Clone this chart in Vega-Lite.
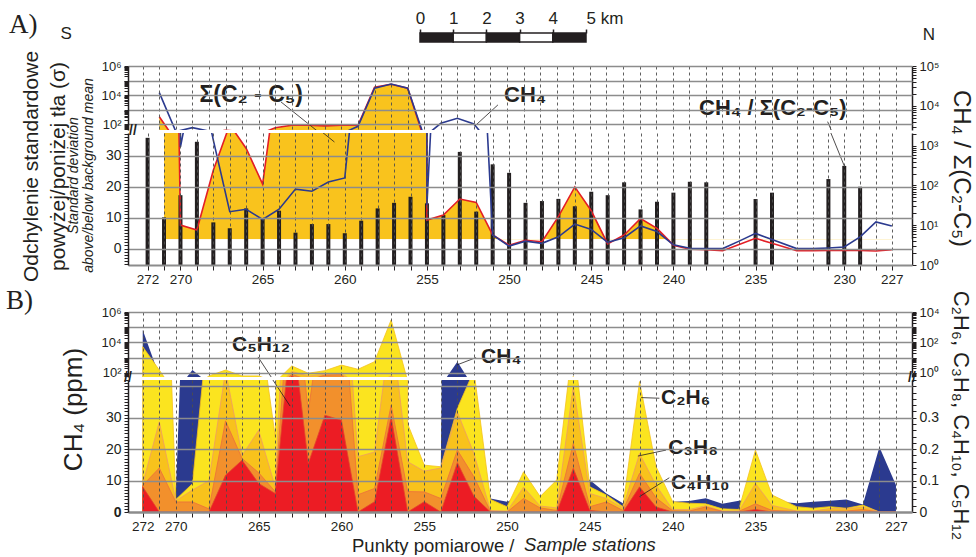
{
  "$schema": "https://vega.github.io/schema/vega-lite/v6.json",
  "padding": {"left": 6, "top": 9, "right": 12, "bottom": 0},
  "background": "white",
  "config": {
    "font": "Liberation Sans",
    "view": {"stroke": null},
    "axis": {"labelFont": "Liberation Sans", "titleFont": "Liberation Sans", "labelColor": "#231f20", "titleColor": "#231f20", "titleFontWeight": "normal", "labelFontSize": 13, "tickColor": "#231f20", "domainColor": "#231f20", "tickCount": 500}
  },
  "datasets": {
    "a": [
      {"station":272,"sum":null,"ch4":null,"ratio":1580},
      {"station":271,"sum":340,"ch4":15000,"ratio":15.8},
      {"station":270,"sum":7.6,"ch4":32.8,"ratio":57},
      {"station":269,"sum":6.0,"ch4":60,"ratio":1256},
      {"station":268,"sum":25.3,"ch4":35,"ratio":11.8},
      {"station":267,"sum":40,"ch4":11.9,"ratio":8.4},
      {"station":266,"sum":32.3,"ch4":12.7,"ratio":26.5},
      {"station":265,"sum":20.8,"ch4":9.4,"ratio":14.9},
      {"station":264,"sum":60,"ch4":12.7,"ratio":23.2},
      {"station":263,"sum":88,"ch4":19.2,"ratio":6.5},
      {"station":262,"sum":88,"ch4":18.5,"ratio":10.7},
      {"station":261,"sum":80,"ch4":21.5,"ratio":10.7},
      {"station":260,"sum":88,"ch4":22.8,"ratio":6.3},
      {"station":259,"sum":88,"ch4":75,"ratio":13},
      {"station":258,"sum":35000,"ch4":30000,"ratio":26.5},
      {"station":257,"sum":56000,"ch4":58000,"ratio":36.6},
      {"station":256,"sum":30000,"ch4":30000,"ratio":52},
      {"station":255,"sum":9.2,"ch4":14,"ratio":35.6},
      {"station":254,"sum":10.8,"ch4":120,"ratio":18},
      {"station":253,"sum":16,"ch4":265,"ratio":700},
      {"station":252,"sum":14.9,"ch4":108,"ratio":22},
      {"station":251,"sum":4.4,"ch4":4.4,"ratio":340},
      {"station":250,"sum":1.1,"ch4":0.8,"ratio":208},
      {"station":249,"sum":2.7,"ch4":2.4,"ratio":36.6},
      {"station":248,"sum":2.2,"ch4":1.7,"ratio":40.6},
      {"station":247,"sum":10.3,"ch4":3.8,"ratio":46},
      {"station":246,"sum":19.9,"ch4":7.9,"ratio":30},
      {"station":245,"sum":12.2,"ch4":6.2,"ratio":69.6},
      {"station":244,"sum":1.5,"ch4":2.0,"ratio":57},
      {"station":243,"sum":4.4,"ch4":3.5,"ratio":120},
      {"station":242,"sum":9.7,"ch4":7.3,"ratio":25},
      {"station":241,"sum":6.5,"ch4":5.5,"ratio":39},
      {"station":240,"sum":1.1,"ch4":1.2,"ratio":66},
      {"station":239,"sum":-0.2,"ch4":0.1,"ratio":124},
      {"station":238,"sum":-0.4,"ch4":0,"ratio":120},
      {"station":237,"sum":-0.7,"ch4":0,"ratio":null},
      {"station":236,"sum":1.3,"ch4":2.4,"ratio":null},
      {"station":235,"sum":3.3,"ch4":4.9,"ratio":45.6},
      {"station":234,"sum":1.7,"ch4":2.9,"ratio":66},
      {"station":233,"sum":-0.7,"ch4":0,"ratio":null},
      {"station":232,"sum":-0.7,"ch4":0,"ratio":null},
      {"station":231,"sum":-0.6,"ch4":0.2,"ratio":145},
      {"station":230,"sum":-0.6,"ch4":0.5,"ratio":311},
      {"station":229,"sum":-0.6,"ch4":3.8,"ratio":93},
      {"station":228,"sum":-0.8,"ch4":8.6,"ratio":null},
      {"station":227,"sum":-0.4,"ch4":7.3,"ratio":null}
    ],
    "b": [
      {"station":272,"ch4":66000,"c2h6":52,"c3h8":0.09,"c4h10":0.085,"c5h12":0.08},
      {"station":271,"ch4":60,"c2h6":1.5,"c3h8":0.287,"c4h10":0.14,"c5h12":0},
      {"station":270,"ch4":6,"c2h6":0.04,"c3h8":0.036,"c4h10":0.032,"c5h12":0},
      {"station":269,"ch4":150,"c2h6":0.09,"c3h8":0.07,"c4h10":0.032,"c5h12":0},
      {"station":268,"ch4":20,"c2h6":0.62,"c3h8":0.10,"c4h10":0.01,"c5h12":0},
      {"station":267,"ch4":20,"c2h6":1.5,"c3h8":0.45,"c4h10":0.29,"c5h12":0.117},
      {"station":266,"ch4":20,"c2h6":0.62,"c3h8":0.18,"c4h10":0.17,"c5h12":0.165},
      {"station":265,"ch4":20,"c2h6":0.62,"c3h8":0.26,"c4h10":0.125,"c5h12":0.091},
      {"station":264,"ch4":10,"c2h6":0.24,"c3h8":0.08,"c4h10":0.065,"c5h12":0.059},
      {"station":263,"ch4":20,"c2h6":2.8,"c3h8":1.2,"c4h10":0.8,"c5h12":0.6},
      {"station":262,"ch4":20,"c2h6":0.93,"c3h8":0.6,"c4h10":0.32,"c5h12":0.155},
      {"station":261,"ch4":20,"c2h6":1.38,"c3h8":0.8,"c4h10":0.7,"c5h12":0.308},
      {"station":260,"ch4":20,"c2h6":3.2,"c3h8":0.9,"c4h10":0.75,"c5h12":0.292},
      {"station":259,"ch4":15,"c2h6":1.7,"c3h8":0.176,"c4h10":0.055,"c5h12":0},
      {"station":258,"ch4":15,"c2h6":5.4,"c3h8":0.191,"c4h10":0.075,"c5h12":0.033},
      {"station":257,"ch4":20,"c2h6":3000,"c3h8":0.6,"c4h10":0.34,"c5h12":0.303},
      {"station":256,"ch4":14,"c2h6":0.28,"c3h8":0.16,"c4h10":0.065,"c5h12":0},
      {"station":255,"ch4":12,"c2h6":0.149,"c3h8":0.13,"c4h10":0.064,"c5h12":0.033},
      {"station":254,"ch4":14,"c2h6":0.144,"c3h8":0.14,"c4h10":0.043,"c5h12":0},
      {"station":253,"ch4":540,"c2h6":0.33,"c3h8":0.318,"c4h10":0.197,"c5h12":0.157},
      {"station":252,"ch4":10,"c2h6":0.45,"c3h8":0.186,"c4h10":0.112,"c5h12":0.05},
      {"station":251,"ch4":4.3,"c2h6":0.04,"c3h8":0.005,"c4h10":0.002,"c5h12":0},
      {"station":250,"ch4":3.3,"c2h6":0.017,"c3h8":0.003,"c4h10":0,"c5h12":0},
      {"station":249,"ch4":5,"c2h6":0.128,"c3h8":0.079,"c4h10":0.043,"c5h12":0},
      {"station":248,"ch4":3,"c2h6":0.049,"c3h8":0.019,"c4h10":0.013,"c5h12":0},
      {"station":247,"ch4":5,"c2h6":0.102,"c3h8":0.013,"c4h10":0.005,"c5h12":0},
      {"station":246,"ch4":15,"c2h6":0.55,"c3h8":0.40,"c4h10":0.218,"c5h12":0.139},
      {"station":245,"ch4":10.2,"c2h6":0.08,"c3h8":0.059,"c4h10":0.017,"c5h12":0.005},
      {"station":244,"ch4":5.9,"c2h6":0.054,"c3h8":0.043,"c4h10":0.032,"c5h12":0},
      {"station":243,"ch4":2.8,"c2h6":0.017,"c3h8":0.013,"c4h10":0.005,"c5h12":0},
      {"station":242,"ch4":5,"c2h6":0.415,"c3h8":0.186,"c4h10":0.123,"c5h12":0.08},
      {"station":241,"ch4":5,"c2h6":0.144,"c3h8":0.085,"c4h10":0.045,"c5h12":0.016},
      {"station":240,"ch4":3.3,"c2h6":0.033,"c3h8":0.008,"c4h10":0.004,"c5h12":0},
      {"station":239,"ch4":3.5,"c2h6":0.028,"c3h8":0.008,"c4h10":0.003,"c5h12":0},
      {"station":238,"ch4":4.4,"c2h6":0.026,"c3h8":0.02,"c4h10":0.016,"c5h12":0},
      {"station":237,"ch4":2.6,"c2h6":0.01,"c3h8":0.003,"c4h10":0.002,"c5h12":0},
      {"station":236,"ch4":3.6,"c2h6":0.008,"c3h8":0.003,"c4h10":0.002,"c5h12":0},
      {"station":235,"ch4":4,"c2h6":0.197,"c3h8":0.091,"c4h10":0.026,"c5h12":0.008},
      {"station":234,"ch4":3.5,"c2h6":0.054,"c3h8":0.021,"c4h10":0.005,"c5h12":0},
      {"station":233,"ch4":2.8,"c2h6":0.017,"c3h8":0.003,"c4h10":0.002,"c5h12":0},
      {"station":232,"ch4":3.3,"c2h6":0.012,"c3h8":0.003,"c4h10":0.002,"c5h12":0},
      {"station":231,"ch4":3.6,"c2h6":0.017,"c3h8":0.011,"c4h10":0.003,"c5h12":0},
      {"station":230,"ch4":4,"c2h6":0.012,"c3h8":0.01,"c4h10":0.003,"c5h12":0},
      {"station":229,"ch4":2.4,"c2h6":0.022,"c3h8":0.016,"c4h10":0.008,"c5h12":0},
      {"station":228,"ch4":20.7,"c2h6":0,"c3h8":0,"c4h10":0,"c5h12":0},
      {"station":227,"ch4":8.6,"c2h6":0,"c3h8":0,"c4h10":0,"c5h12":0}
    ]
  },
  "bounds": "flush",
  "spacing": 3,
  "resolve": {"scale": {"x": "independent", "y": "independent"}, "axis": {"x": "independent", "y": "independent"}},
  "vconcat": [
    {
      "width": 784, "height": 9,
      "layer": [
        {
          "data": {"values": [{"from":0,"to":1,"part":"d"},{"from":1,"to":2,"part":"l"},{"from":2,"to":3,"part":"d"},{"from":3,"to":4,"part":"l"},{"from":4,"to":5,"part":"d"}]},
          "mark": {"type": "rect", "stroke": "#231f20", "strokeWidth": 1.5},
          "encoding": {
            "x": {"field": "from", "type": "quantitative", "scale": {"domain": [-8.795, 14.819], "nice": false, "zero": false},
                  "axis": {"orient": "top", "values": [0,1,2,3,4,5], "format": "d", "labelExpr": "datum.value == 5 ? '5 km' : datum.label", "labelAlign": {"condition": {"test": "datum.value == 5", "value": "left"}, "value": "center"}, "domain": false, "tickSize": 4, "tickWidth": 1.5, "labelFontSize": 17, "labelPadding": 2, "grid": false, "title": null}},
            "x2": {"field": "to"},
            "fill": {"field": "part", "type": "nominal", "scale": {"domain": ["d","l"], "range": ["#231f20","#ffffff"]}, "legend": null}
          }
        },
        {
          "data": {"values": [{}]},
          "mark": {"type": "text", "fontSize": 17, "color": "#231f20", "dy": -4},
          "encoding": {"x": {"datum": -10.66, "type": "quantitative"}, "text": {"value": "S"}}
        },
        {
          "data": {"values": [{}]},
          "mark": {"type": "text", "fontSize": 17, "color": "#231f20", "dy": -3},
          "encoding": {"x": {"datum": 15.33, "type": "quantitative"}, "text": {"value": "N"}}
        }
      ]
    },
    {"width": 784, "height": 18, "data": {"values": []}, "mark": "point"},
    {
      "width": 784, "height": 64,
      "title": {"text": "A)", "anchor": "start", "frame": "group", "dx": -119, "dy": -21, "offset": 0, "font": "Liberation Serif", "fontSize": 27, "fontWeight": "normal", "color": "#231f20"},
      "layer": [
        {
          "data": {"name": "a"},
          "layer": [
            {
              "transform": [{"filter": "datum.sum > 0"}],
              "mark": {"type": "area", "color": "#f9c31d", "clip": true},
              "encoding": {
                "x": {"field": "station", "type": "quantitative", "scale": {"domain": [272.89, 234, 233, 226.03], "range": [0, 644, 668.7, 784], "nice": false, "zero": false},
                      "axis": {"orient": "bottom", "values": [272,271,270,269,268,267,266,265,264,263,262,261,260,259,258,257,256,255,254,253,252,251,250,249,248,247,246,245,244,243,242,241,240,239,238,237,236,235,234,233,232,231,230,229,228,227], "tickCount": 500, "labels": false, "ticks": false, "domain": false, "grid": true, "gridDash": [3,3], "gridColor": "#4d4d4d", "gridWidth": 0.9, "title": null, "zindex": 1}},
                "y": {"field": "sum", "type": "quantitative", "stack": null, "scale": {"type": "log", "domain": [41.7, 1000000], "nice": false},
                      "axis": {"orient": "left", "values": [50,60,70,80,90,100,200,300,400,500,600,700,800,900,1000,2000,3000,4000,5000,6000,7000,8000,9000,10000,20000,30000,40000,50000,60000,70000,80000,90000,100000,200000,300000,400000,500000,600000,700000,800000,900000,1000000],
                               "tickCount": 500,
                               "labelExpr": "datum.value == 100 ? '10²' : datum.value == 10000 ? '10⁴' : datum.value == 1000000 ? '10⁶' : ''",
                               "labelOverlap": false, "labelPadding": 3, "tickSize": 4, "domainWidth": 1.5,
                               "grid": true, "gridColor": "#8c8c8c", "gridWidth": 1.3,
                               "gridOpacity": {"condition": {"test": "indexof([100,1000,10000,100000,1000000], datum.value) >= 0", "value": 1}, "value": 0},
                               "zindex": 1,
                               "title": ["Standard deviation", "above/below background mean"], "titleFontStyle": "italic", "titleFontSize": 14, "titleLineHeight": 15, "titleAngle": -90, "titleX": -55, "titleY": 109, "titleBaseline": "middle", "titleAlign": "center"}},
                "y2": {"datum": 1}
              }
            },
            {
              "transform": [{"filter": "datum.sum > 0"}],
              "mark": {"type": "line", "color": "#e31e26", "strokeWidth": 1.6, "clip": true},
              "encoding": {"x": {"field": "station", "type": "quantitative"}, "y": {"field": "sum", "type": "quantitative"}}
            },
            {
              "transform": [{"filter": "datum.ch4 > 0"}],
              "mark": {"type": "line", "color": "#2b3a8f", "strokeWidth": 1.6, "clip": true},
              "encoding": {"x": {"field": "station", "type": "quantitative"}, "y": {"field": "ch4", "type": "quantitative"}}
            },
            {
              "data": {"values": [{}]},
              "mark": {"type": "text", "fontSize": 23, "fontWeight": "bold", "color": "#231f20", "align": "center", "baseline": "middle"},
              "encoding": {"x": {"datum": 265.45, "type": "quantitative"}, "y": {"datum": 10500, "type": "quantitative"}, "text": {"value": "Σ(C₂ - C₅)"}}
            },
            {
              "data": {"values": [{}]},
              "mark": {"type": "rule", "color": "#231f20", "strokeWidth": 0.8, "clip": true},
              "encoding": {"x": {"datum": 263.65, "type": "quantitative"}, "x2": {"datum": 260.63}, "y": {"datum": 3470, "type": "quantitative"}, "y2": {"datum": 6.3}}
            },
            {
              "data": {"values": [{}]},
              "mark": {"type": "text", "fontSize": 22, "fontWeight": "bold", "color": "#231f20", "align": "left", "baseline": "middle"},
              "encoding": {"x": {"datum": 250.18, "type": "quantitative"}, "y": {"datum": 10500, "type": "quantitative"}, "text": {"value": "CH₄"}}
            },
            {
              "data": {"values": [{}]},
              "mark": {"type": "rule", "color": "#231f20", "strokeWidth": 0.8, "clip": true},
              "encoding": {"x": {"datum": 250.55, "type": "quantitative"}, "x2": {"datum": 251.94}, "y": {"datum": 2190, "type": "quantitative"}, "y2": {"datum": 79}}
            },
            {
              "data": {"values": [{}]},
              "mark": {"type": "text", "fontSize": 22, "fontWeight": "bold", "color": "#231f20", "align": "center", "baseline": "middle"},
              "encoding": {"x": {"datum": 233.97, "type": "quantitative"}, "y": {"datum": 1350, "type": "quantitative"}, "text": {"value": "CH₄ / Σ(C₂-C₅)"}}
            },
            {
              "data": {"values": [{}]},
              "mark": {"type": "rule", "color": "#231f20", "strokeWidth": 0.8, "clip": true},
              "encoding": {"x": {"datum": 231.13, "type": "quantitative"}, "x2": {"datum": 230.0}, "y": {"datum": 155, "type": "quantitative"}, "y2": {"datum": 0.15}}
            }
          ]
        },
        {
          "data": {"name": "a"},
          "transform": [{"filter": "datum.ratio > 0"}],
          "mark": {"type": "point", "opacity": 0},
          "encoding": {
            "x": {"field": "station", "type": "quantitative"},
            "y": {"field": "ratio", "type": "quantitative", "scale": {"type": "log", "domain": [2455, 100000], "nice": false},
                  "axis": {"orient": "right", "values": [3000,4000,5000,6000,7000,8000,9000,10000,20000,30000,40000,50000,60000,70000,80000,90000,100000], "tickCount": 500,
                           "labelExpr": "datum.value == 10000 ? '10⁴' : datum.value == 100000 ? '10⁵' : ''", "labelOverlap": false, "labelPadding": 3, "tickSize": 4, "domainWidth": 1.5, "grid": false, "title": null}}
          }
        }
      ],
      "resolve": {"scale": {"y": "independent"}}
    },
    {
      "width": 784, "height": 132,
      "layer": [
        {
          "data": {"name": "a"},
          "layer": [
            {
              "mark": {"type": "area", "color": "#f9c31d", "clip": true},
              "encoding": {
                "x": {"field": "station", "type": "quantitative", "scale": {"domain": [272.89, 234, 233, 226.03], "range": [0, 644, 668.7, 784], "nice": false, "zero": false},
                      "axis": {"orient": "bottom", "values": [272,271,270,269,268,267,266,265,264,263,262,261,260,259,258,257,256,255,254,253,252,251,250,249,248,247,246,245,244,243,242,241,240,239,238,237,236,235,234,233,232,231,230,229,228,227], "tickCount": 500, "format": "d",
                               "labelExpr": "indexof([272,270,265,260,255,250,245,240,235,230,227], datum.value) >= 0 ? datum.label : ''", "labelOverlap": false, "labelFontSize": 13.5, "labelPadding": 2,
                               "tickSize": 5, "domainColor": "#8c8c8c", "domainWidth": 2, "grid": true, "gridDash": [3,3], "gridColor": "#4d4d4d", "gridWidth": 0.9, "title": null, "zindex": 1}},
                "y": {"field": "sum", "type": "quantitative", "stack": null, "scale": {"domain": [-5.3, 37.3], "nice": false, "zero": false},
                      "axis": {"orient": "left", "values": [-5,-4,-3,-2,-1,0,1,2,3,4,5,6,7,8,9,10,11,12,13,14,15,16,17,18,19,20,21,22,23,24,25,26,27,28,29,30,31,32,33,34,35,36,37], "tickCount": 500, "format": "d",
                               "labelExpr": "indexof([0,10,20,30], datum.value) >= 0 ? datum.label : ''", "labelOverlap": false, "labelFontSize": 14, "labelPadding": 3, "tickSize": 4, "domainWidth": 1.5,
                               "grid": true, "gridColor": "#8c8c8c", "gridWidth": 1.3,
                               "gridOpacity": {"condition": {"test": "indexof([0,10,20,30], datum.value) >= 0", "value": 1}, "value": 0},
                               "zindex": 1,
                               "title": ["Odchylenie standardowe", "powyżej/poniżej tła (σ)"], "titleFontSize": 21, "titleLineHeight": 27, "titleAngle": -90, "titleX": -97, "titleY": 33, "titleBaseline": "middle", "titleAlign": "center"}},
                "y2": {"datum": 3}
              }
            },
            {
              "data": {"values": [{}]},
              "mark": {"type": "rect", "color": "white", "clip": true},
              "encoding": {"y": {"datum": -10, "type": "quantitative"}, "y2": {"datum": 3}}
            }
          ]
        },
        {
          "data": {"name": "a"},
          "transform": [{"filter": "datum.ratio > 0"}],
          "mark": {"type": "bar", "width": 4, "color": "#231f20", "clip": true},
          "encoding": {
            "x": {"field": "station", "type": "quantitative"},
            "y": {"field": "ratio", "type": "quantitative", "stack": null, "scale": {"type": "log", "domain": [1, 2089], "nice": false},
                  "axis": {"orient": "right", "values": [1,2,3,4,5,6,7,8,9,10,20,30,40,50,60,70,80,90,100,200,300,400,500,600,700,800,900,1000,2000], "tickCount": 500,
                           "labelExpr": "datum.value == 1 ? '10⁰' : datum.value == 10 ? '10¹' : datum.value == 100 ? '10²' : datum.value == 1000 ? '10³' : ''", "labelOverlap": false, "labelPadding": 3, "tickSize": 4, "domainWidth": 1.5, "grid": false,
                           "title": "CH₄ / Σ(C₂-C₅)", "titleFontSize": 24, "titleAngle": 90, "titleX": 48, "titleY": 35, "titleBaseline": "middle", "titleAlign": "center"}},
            "y2": {"datum": 1}
          }
        },
        {
          "data": {"name": "a"},
          "layer": [
            {
              "mark": {"type": "line", "color": "#e31e26", "strokeWidth": 1.6, "clip": true},
              "encoding": {"x": {"field": "station", "type": "quantitative"}, "y": {"field": "sum", "type": "quantitative", "scale": {"domain": [-5.3, 37.3], "nice": false, "zero": false}, "axis": null}}
            },
            {
              "mark": {"type": "line", "color": "#2b3a8f", "strokeWidth": 1.6, "clip": true},
              "encoding": {"x": {"field": "station", "type": "quantitative"}, "y": {"field": "ch4", "type": "quantitative"}}
            },
            {
              "data": {"values": [{}]},
              "mark": {"type": "rule", "color": "#231f20", "strokeWidth": 0.8, "clip": true},
              "encoding": {"x": {"datum": 263.65, "type": "quantitative"}, "x2": {"datum": 260.63}, "y": {"datum": 47.3, "type": "quantitative"}, "y2": {"datum": 34.4}}
            },
            {
              "data": {"values": [{}]},
              "mark": {"type": "rule", "color": "#231f20", "strokeWidth": 0.8, "clip": true},
              "encoding": {"x": {"datum": 231.13, "type": "quantitative"}, "x2": {"datum": 230.0}, "y": {"datum": 40.9, "type": "quantitative"}, "y2": {"datum": 26.7}}
            },
            {
              "data": {"values": [{}]},
              "mark": {"type": "text", "fontSize": 14, "fontWeight": "bold", "color": "#231f20", "align": "center", "baseline": "middle"},
              "encoding": {"x": {"datum": 272.89, "type": "quantitative"}, "y": {"datum": 37.8, "type": "quantitative"}, "text": {"value": "//"}}
            }
          ]
        }
      ],
      "resolve": {"scale": {"y": "independent"}}
    },
    {"width": 784, "height": 41, "data": {"values": []}, "mark": "point"},
    {
      "width": 784, "height": 65,
      "title": {"text": "B)", "anchor": "start", "frame": "group", "dx": -122, "dy": 9, "offset": 0, "font": "Liberation Serif", "fontSize": 27, "fontWeight": "normal", "color": "#231f20"},
      "layer": [
        {
          "data": {"name": "b"},
          "transform": [{"filter": "datum.ch4 > 0"}],
          "mark": {"type": "area", "color": "#2b3a8f", "clip": true},
          "encoding": {
            "x": {"field": "station", "type": "quantitative", "scale": {"domain": [272.89, 234, 233, 226.03], "range": [0, 644, 668.7, 784], "nice": false, "zero": false},
                  "axis": {"orient": "bottom", "values": [272,271,270,269,268,267,266,265,264,263,262,261,260,259,258,257,256,255,254,253,252,251,250,249,248,247,246,245,244,243,242,241,240,239,238,237,236,235,234,233,232,231,230,229,228,227], "tickCount": 500, "labels": false, "ticks": false, "domain": false, "grid": true, "gridDash": [3,3], "gridColor": "#4d4d4d", "gridWidth": 0.9, "title": null, "zindex": 1}},
            "y": {"field": "ch4", "type": "quantitative", "stack": null, "scale": {"type": "log", "domain": [52.5, 1000000], "nice": false},
                  "axis": {"orient": "left", "values": [60,70,80,90,100,200,300,400,500,600,700,800,900,1000,2000,3000,4000,5000,6000,7000,8000,9000,10000,20000,30000,40000,50000,60000,70000,80000,90000,100000,200000,300000,400000,500000,600000,700000,800000,900000,1000000], "tickCount": 500,
                           "labelExpr": "datum.value == 100 ? '10²' : datum.value == 10000 ? '10⁴' : datum.value == 1000000 ? '10⁶' : ''",
                           "labelOverlap": false, "labelPadding": 3, "tickSize": 4, "domainWidth": 1.5,
                           "grid": true, "gridColor": "#8c8c8c", "gridWidth": 1.3,
                           "gridOpacity": {"condition": {"test": "indexof([100,1000,10000,100000,1000000], datum.value) >= 0", "value": 1}, "value": 0},
                           "zindex": 1, "title": null}},
            "y2": {"datum": 1}
          }
        },
        {
          "data": {"name": "b"},
          "layer": [
            {
              "transform": [{"filter": "datum.c2h6 > 0"}],
              "mark": {"type": "area", "color": "#fbe41f", "stroke": "#f5c11a", "strokeWidth": 0.8, "clip": true},
              "encoding": {
                "x": {"field": "station", "type": "quantitative"},
                "y": {"field": "c2h6", "type": "quantitative", "stack": null, "scale": {"type": "log", "domain": [0.525, 10000], "nice": false},
                      "axis": {"orient": "right", "values": [0.6,0.7,0.8,0.9,1,2,3,4,5,6,7,8,9,10,20,30,40,50,60,70,80,90,100,200,300,400,500,600,700,800,900,1000,2000,3000,4000,5000,6000,7000,8000,9000,10000], "tickCount": 500,
                               "labelExpr": "datum.value == 1 ? '10⁰' : datum.value == 100 ? '10²' : datum.value == 10000 ? '10⁴' : ''", "labelOverlap": false, "labelPadding": 3, "tickSize": 4, "domainWidth": 1.5, "grid": false, "title": null}},
                "y2": {"datum": 0.01}
              }
            },
            {
              "transform": [{"filter": "datum.c3h8 > 0"}],
              "mark": {"type": "area", "color": "#f8c21c", "stroke": "#ef9a66", "strokeWidth": 0.8, "clip": true},
              "encoding": {"x": {"field": "station", "type": "quantitative"}, "y": {"field": "c3h8", "type": "quantitative", "stack": null}, "y2": {"datum": 0.01}}
            },
            {
              "transform": [{"filter": "datum.c4h10 > 0"}],
              "mark": {"type": "area", "color": "#f2902c", "stroke": "#ec6f3c", "strokeWidth": 0.8, "clip": true},
              "encoding": {"x": {"field": "station", "type": "quantitative"}, "y": {"field": "c4h10", "type": "quantitative", "stack": null}, "y2": {"datum": 0.01}}
            },
            {
              "transform": [{"filter": "datum.c5h12 > 0"}],
              "mark": {"type": "area", "color": "#ec1c24", "stroke": "#e2452c", "strokeWidth": 0.8, "clip": true},
              "encoding": {"x": {"field": "station", "type": "quantitative"}, "y": {"field": "c5h12", "type": "quantitative", "stack": null}, "y2": {"datum": 0.01}}
            }
          ]
        },
        {
          "data": {"values": [{}]},
          "layer": [
            {
              "mark": {"type": "text", "fontSize": 21, "fontWeight": "bold", "color": "#231f20", "align": "center", "baseline": "middle"},
              "encoding": {"x": {"datum": 264.86, "type": "quantitative"}, "y": {"datum": 6760, "type": "quantitative", "scale": {"type": "log", "domain": [52.5, 1000000], "nice": false}, "axis": null}, "text": {"value": "C₅H₁₂"}}
            },
            {
              "mark": {"type": "rule", "color": "#231f20", "strokeWidth": 0.8, "clip": true},
              "encoding": {"x": {"datum": 265.04, "type": "quantitative"}, "x2": {"datum": 263.1}, "y": {"datum": 1100, "type": "quantitative"}, "y2": {"datum": 0.66}}
            },
            {
              "mark": {"type": "text", "fontSize": 21, "fontWeight": "bold", "color": "#231f20", "align": "left", "baseline": "middle"},
              "encoding": {"x": {"datum": 251.57, "type": "quantitative"}, "y": {"datum": 1100, "type": "quantitative"}, "text": {"value": "CH₄"}}
            },
            {
              "mark": {"type": "rule", "color": "#231f20", "strokeWidth": 0.8, "clip": true},
              "encoding": {"x": {"datum": 251.87, "type": "quantitative"}, "x2": {"datum": 253.03}, "y": {"datum": 1000, "type": "quantitative"}, "y2": {"datum": 325}}
            }
          ]
        }
      ],
      "resolve": {"scale": {"y": "independent"}}
    },
    {
      "width": 784, "height": 132,
      "layer": [
        {
          "data": {"name": "b"},
          "mark": {"type": "area", "color": "#2b3a8f", "clip": true},
          "encoding": {
            "x": {"field": "station", "type": "quantitative", "scale": {"domain": [272.89, 234, 233, 226.03], "range": [0, 644, 668.7, 784], "nice": false, "zero": false},
                  "axis": {"orient": "bottom", "values": [272,271,270,269,268,267,266,265,264,263,262,261,260,259,258,257,256,255,254,253,252,251,250,249,248,247,246,245,244,243,242,241,240,239,238,237,236,235,234,233,232,231,230,229,228,227], "tickCount": 500, "format": "d",
                           "labelExpr": "indexof([272,270,265,260,255,250,245,240,235,230,227], datum.value) >= 0 ? datum.label : ''", "labelOverlap": false, "labelFontSize": 13.5, "labelPadding": 2,
                           "tickSize": 5, "domainColor": "#8c8c8c", "domainWidth": 2.5, "grid": true, "gridDash": [3,3], "gridColor": "#4d4d4d", "gridWidth": 0.9, "zindex": 1,
                           "title": "Punkty pomiarowe  /", "titleFontSize": 18.5, "titleX": 386, "titleY": 33, "titleAlign": "right", "titleBaseline": "middle"}},
            "y": {"field": "ch4", "type": "quantitative", "stack": null, "scale": {"domain": [0, 42], "nice": false, "zero": false},
                  "axis": {"orient": "left", "values": [0,1,2,3,4,5,6,7,8,9,10,11,12,13,14,15,16,17,18,19,20,21,22,23,24,25,26,27,28,29,30,31,32,33,34,35,36,37,38,39,40,41,42], "tickCount": 500, "format": "d",
                           "labelExpr": "indexof([0,10,20,30], datum.value) >= 0 ? datum.label : ''", "labelOverlap": false, "labelFontSize": 14, "labelPadding": 3, "tickSize": 4, "domainWidth": 1.5,
                           "labelFontWeight": {"condition": {"test": "datum.value == 0", "value": "bold"}, "value": "normal"},
                           "grid": true, "gridColor": "#8c8c8c", "gridWidth": 1.3,
                           "gridOpacity": {"condition": {"test": "indexof([10,20,30,40], datum.value) >= 0", "value": 1}, "value": 0},
                           "zindex": 1,
                           "title": "CH₄ (ppm)", "titleFontSize": 26, "titleAngle": -90, "titleX": -55, "titleY": 29, "titleBaseline": "middle", "titleAlign": "center"}}
          }
        },
        {
          "data": {"name": "b"},
          "layer": [
            {
              "mark": {"type": "area", "color": "#fbe41f", "stroke": "#f5c11a", "strokeWidth": 0.8, "clip": true},
              "encoding": {
                "x": {"field": "station", "type": "quantitative"},
                "y": {"field": "c2h6", "type": "quantitative", "stack": null, "scale": {"domain": [0, 0.42], "nice": false, "zero": false},
                      "axis": {"orient": "right", "values": [0,0.02,0.04,0.06,0.08,0.1,0.12,0.14,0.16,0.18,0.2,0.22,0.24,0.26,0.28,0.3,0.32,0.34,0.36,0.38,0.4,0.42], "tickCount": 500,
                               "labelExpr": "datum.value == 0 ? '0' : datum.value == 0.1 ? '0.1' : datum.value == 0.2 ? '0.2' : datum.value == 0.3 ? '0.3' : ''", "labelOverlap": false, "labelFontSize": 14, "labelPadding": 3, "tickSize": 4, "domainWidth": 1.5, "grid": false,
                               "title": "C₂H₆, C₃H₈, C₄H₁₀, C₅H₁₂", "titleFontSize": 22, "titleAngle": 90, "titleX": 48, "titleY": 35, "titleBaseline": "middle", "titleAlign": "center"}}
              }
            },
            {
              "mark": {"type": "area", "color": "#f8c21c", "stroke": "#ef9a66", "strokeWidth": 0.8, "clip": true},
              "encoding": {"x": {"field": "station", "type": "quantitative"}, "y": {"field": "c3h8", "type": "quantitative", "stack": null}}
            },
            {
              "mark": {"type": "area", "color": "#f2902c", "stroke": "#ec6f3c", "strokeWidth": 0.8, "clip": true},
              "encoding": {"x": {"field": "station", "type": "quantitative"}, "y": {"field": "c4h10", "type": "quantitative", "stack": null}}
            },
            {
              "mark": {"type": "area", "color": "#ec1c24", "stroke": "#e2452c", "strokeWidth": 0.8, "clip": true},
              "encoding": {"x": {"field": "station", "type": "quantitative"}, "y": {"field": "c5h12", "type": "quantitative", "stack": null}}
            }
          ]
        },
        {
          "data": {"values": [{}]},
          "layer": [
            {
              "mark": {"type": "rule", "color": "#231f20", "strokeWidth": 0.8, "clip": true},
              "encoding": {"x": {"datum": 265.04, "type": "quantitative"}, "x2": {"datum": 263.1}, "y": {"datum": 49.2, "type": "quantitative", "scale": {"domain": [0, 42], "nice": false, "zero": false}, "axis": null}, "y2": {"datum": 33.7}}
            },
            {
              "mark": {"type": "rule", "color": "#231f20", "strokeWidth": 0.8},
              "encoding": {"x": {"datum": 241.9, "type": "quantitative"}, "x2": {"datum": 240.8}, "y": {"datum": 36.4, "type": "quantitative"}, "y2": {"datum": 36.2}}
            },
            {
              "mark": {"type": "text", "fontSize": 21, "fontWeight": "bold", "color": "#231f20", "align": "left", "baseline": "middle"},
              "encoding": {"x": {"datum": 240.7, "type": "quantitative"}, "y": {"datum": 36.2, "type": "quantitative"}, "text": {"value": "C₂H₆"}}
            },
            {
              "mark": {"type": "rule", "color": "#231f20", "strokeWidth": 0.8},
              "encoding": {"x": {"datum": 242.1, "type": "quantitative"}, "x2": {"datum": 240.4}, "y": {"datum": 17.8, "type": "quantitative"}, "y2": {"datum": 19.7}}
            },
            {
              "mark": {"type": "text", "fontSize": 21, "fontWeight": "bold", "color": "#231f20", "align": "left", "baseline": "middle"},
              "encoding": {"x": {"datum": 240.27, "type": "quantitative"}, "y": {"datum": 20.3, "type": "quantitative"}, "text": {"value": "C₃H₈"}}
            },
            {
              "mark": {"type": "rule", "color": "#231f20", "strokeWidth": 0.8},
              "encoding": {"x": {"datum": 242.0, "type": "quantitative"}, "x2": {"datum": 240.2}, "y": {"datum": 4.9, "type": "quantitative"}, "y2": {"datum": 10.9}}
            },
            {
              "mark": {"type": "text", "fontSize": 21, "fontWeight": "bold", "color": "#231f20", "align": "left", "baseline": "middle"},
              "encoding": {"x": {"datum": 240.1, "type": "quantitative"}, "y": {"datum": 9.2, "type": "quantitative"}, "text": {"value": "C₄H₁₀"}}
            },
            {
              "mark": {"type": "text", "fontSize": 18.5, "fontStyle": "italic", "color": "#231f20", "align": "left", "baseline": "middle"},
              "encoding": {"x": {"datum": 248.97, "type": "quantitative"}, "y": {"datum": -10.5, "type": "quantitative"}, "text": {"value": "Sample stations"}}
            },
            {
              "mark": {"type": "text", "fontSize": 14, "fontWeight": "bold", "color": "#231f20", "align": "center", "baseline": "middle"},
              "encoding": {"x": {"datum": 272.89, "type": "quantitative"}, "y": {"datum": 42.5, "type": "quantitative"}, "text": {"value": "//"}}
            },
            {
              "mark": {"type": "text", "fontSize": 14, "fontWeight": "bold", "color": "#231f20", "align": "center", "baseline": "middle"},
              "encoding": {"x": {"datum": 226.03, "type": "quantitative"}, "y": {"datum": 42.5, "type": "quantitative"}, "text": {"value": "//"}}
            }
          ]
        }
      ],
      "resolve": {"scale": {"y": "independent"}}
    }
  ]
}
